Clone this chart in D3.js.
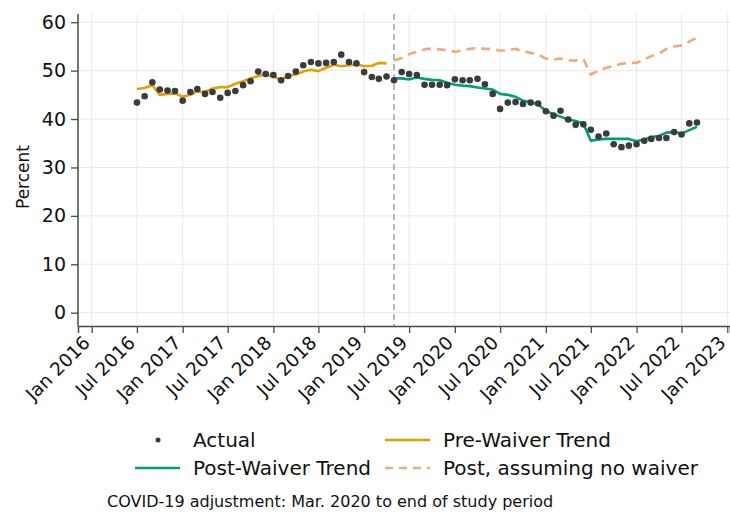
<!DOCTYPE html>
<html>
<head>
<meta charset="utf-8">
<script src="https://cdn.jsdelivr.net/npm/d3@7"></script>
<style>
  html, body { margin: 0; padding: 0; background: #fff; }
  svg { display: block; font-family: "DejaVu Sans", sans-serif; }
</style>
</head>
<body>
<svg id="chart" width="730" height="512"></svg>
<script>
// Monthly series, first observation July 2016
const firstMonth = new Date(2016, 6, 1);   // Jul 2016
const waiverMonth = new Date(2019, 4, 1);  // May 2019, start of waiver

// Observed share (percent), Jul 2016 .. Sep 2022
const actual = [
  43.4, 44.7, 47.6, 46.1, 45.9, 45.8, 43.8, 45.6, 46.2, 45.2, 45.6, 44.4,
  45.4, 45.8, 47.0, 47.8, 49.8, 49.3, 49.1, 48.0, 48.9, 49.8, 51.1, 51.8,
  51.5, 51.6, 51.8, 53.3, 51.8, 51.5, 49.7, 48.7, 48.3, 48.8, 48.0, 49.7,
  49.3, 49.1, 47.1, 47.1, 47.1, 47.0, 48.2, 48.0, 48.0, 48.3, 47.2, 45.2,
  42.1, 43.4, 43.5, 43.1, 43.4, 43.2, 41.6, 40.7, 41.7, 39.9, 38.8, 38.9,
  37.8, 36.4, 37.0, 34.8, 34.2, 34.5, 34.8, 35.5, 35.9, 36.1, 36.1, 37.3,
  36.8, 39.1, 39.3
];

// Pre-waiver fitted trend, Jul 2016 .. Apr 2019
const preTrend = [
  46.2, 46.4, 47.0, 45.0, 45.2, 45.3, 44.6, 45.0, 45.7, 45.6, 46.3, 46.6,
  46.6, 47.3, 47.8, 48.4, 48.9, 49.2, 48.8, 48.1, 48.9, 49.2, 49.8, 50.2,
  49.9, 50.6, 51.2, 50.9, 51.1, 51.3, 50.9, 51.0, 51.6, 51.5
];

// Post-waiver fitted trend, May 2019 .. Sep 2022
const postTrend = [
  48.4, 48.4, 48.2, 48.6, 48.3, 48.1, 48.0, 47.5, 47.1, 46.9, 46.8, 46.5,
  46.3, 46.1, 45.2, 45.0, 44.6, 43.8, 43.5, 43.0, 41.7, 41.0, 40.5, 39.9,
  39.6, 39.1, 35.5, 35.8, 35.9, 35.9, 35.9, 35.9, 35.4, 35.8, 36.3, 36.5,
  37.2, 37.3, 37.0, 37.7, 38.4
];

// Counterfactual without the waiver, May 2019 .. Sep 2022
const noWaiver = [
  52.1, 52.6, 53.4, 53.9, 54.4, 54.6, 54.4, 54.2, 53.9, 54.2, 54.5, 54.7,
  54.5, 54.5, 54.1, 54.3, 54.5, 54.0, 53.7, 53.3, 52.5, 52.3, 52.5, 52.1,
  52.1, 52.4, 49.2, 50.0, 50.6, 51.0, 51.4, 51.6, 51.6, 52.3, 53.0, 53.5,
  54.5, 55.0, 55.2, 56.0, 56.8
];

const yTicks = [0, 10, 20, 30, 40, 50, 60];
const xTickDates = [
  "2016-01", "2016-07", "2017-01", "2017-07", "2018-01", "2018-07", "2019-01",
  "2019-07", "2020-01", "2020-07", "2021-01", "2021-07", "2022-01", "2022-07", "2023-01"
];
const legendItems = [
  { label: "Actual", kind: "dot" },
  { label: "Pre-Waiver Trend", kind: "pre" },
  { label: "Post-Waiver Trend", kind: "post" },
  { label: "Post, assuming no waiver", kind: "cf" }
];
const note = "COVID-19 adjustment: Mar. 2020 to end of study period";

const colors = {
  dot: "#3b3b3b",
  pre: "#E69F00",
  post: "#009E73",
  cf: "#F2A97A",
  grid: "#e9e9e9",
  axis: "#4a4a4a",
  waiver: "#a8a8a8"
};

const parseMonth = d3.timeParse("%Y-%m");
const fmt = d3.timeFormat("%b %Y");

const svg = d3.select("#chart");
const plot = { left: 78, right: 730, top: 14, bottom: 326 };

// x: time scale calibrated on Jan 2016 .. Jan 2023, then widened to the frame
const xBase = d3.scaleTime()
  .domain([parseMonth("2016-01"), parseMonth("2023-01")])
  .range([91.7, 727.3]);
const x = d3.scaleTime()
  .domain([xBase.invert(plot.left), xBase.invert(plot.right)])
  .range([plot.left, plot.right]);

const y = d3.scaleLinear()
  .domain([-2.75, 61.7])
  .range([plot.bottom, plot.top]);

const monthAt = (start, i) => d3.timeMonth.offset(start, i);
const actualPts = actual.map((v, i) => ({ date: monthAt(firstMonth, i), v }));
const prePts = preTrend.map((v, i) => ({ date: monthAt(firstMonth, i), v }));
const postPts = postTrend.map((v, i) => ({ date: monthAt(waiverMonth, i), v }));
const cfPts = noWaiver.map((v, i) => ({ date: monthAt(waiverMonth, i), v }));

const xTicks = xTickDates.map(parseMonth);

// Grid
const grid = svg.append("g");
grid.selectAll("line.gx").data(xTicks).join("line")
  .attr("x1", d => x(d)).attr("x2", d => x(d))
  .attr("y1", plot.top).attr("y2", plot.bottom)
  .attr("stroke", colors.grid).attr("stroke-width", 1);
grid.selectAll("line.gy").data(yTicks).join("line")
  .attr("x1", plot.left).attr("x2", plot.right)
  .attr("y1", d => y(d)).attr("y2", d => y(d))
  .attr("stroke", colors.grid).attr("stroke-width", 1);

// Waiver start marker
svg.append("line")
  .attr("x1", x(waiverMonth)).attr("x2", x(waiverMonth))
  .attr("y1", plot.top).attr("y2", plot.bottom)
  .attr("stroke", colors.waiver).attr("stroke-width", 1.6)
  .attr("stroke-dasharray", "6,4");

// Axes
const yAxis = d3.axisLeft(y).tickValues(yTicks).tickSize(7).tickPadding(5);
const gy = svg.append("g").attr("transform", `translate(${plot.left},0)`).call(yAxis);
gy.select(".domain").attr("d", `M0,${plot.top}V${plot.bottom}`);

const xAxis = d3.axisBottom(x).tickValues(xTicks).tickSize(7).tickFormat(fmt);
const gx = svg.append("g").attr("transform", `translate(0,${plot.bottom})`).call(xAxis);

[gx, gy].forEach(g => {
  g.select(".domain").attr("stroke", colors.axis).attr("stroke-width", 1.5);
  g.selectAll(".tick line").attr("stroke", colors.axis).attr("stroke-width", 1.3);
  g.selectAll("text").attr("fill", "#111").attr("font-size", 19)
    .attr("font-family", "DejaVu Sans, sans-serif");
});
gx.selectAll(".tick text")
  .attr("font-size", 18.5)
  .attr("text-anchor", "end")
  .attr("y", 0).attr("dy", "0.3em")
  .attr("transform", "translate(-5,14) rotate(-45)");

svg.append("text")
  .attr("transform", "translate(29,177) rotate(-90)")
  .attr("text-anchor", "middle")
  .attr("font-size", 17)
  .attr("fill", "#111")
  .text("Percent");

// Series
const line = d3.line().x(d => x(d.date)).y(d => y(d.v));

svg.append("path").datum(cfPts)
  .attr("d", line).attr("fill", "none")
  .attr("stroke", colors.cf).attr("stroke-width", 2.6)
  .attr("stroke-dasharray", "9,6");

svg.append("path").datum(prePts)
  .attr("d", line).attr("fill", "none")
  .attr("stroke", colors.pre).attr("stroke-width", 2.6)
  .attr("stroke-linejoin", "round");

svg.append("path").datum(postPts)
  .attr("d", line).attr("fill", "none")
  .attr("stroke", colors.post).attr("stroke-width", 2.6)
  .attr("stroke-linejoin", "round");

svg.append("g").selectAll("circle").data(actualPts).join("circle")
  .attr("cx", d => x(d.date)).attr("cy", d => y(d.v))
  .attr("r", 3.3).attr("fill", colors.dot);

// Legend (two columns, two rows)
const legend = svg.append("g").attr("font-size", 20).attr("fill", "#111");
const colText = [193, 443];
const rowY = [440, 468];
legendItems.forEach((item, i) => {
  const col = i % 2, row = Math.floor(i / 2);
  const tx = colText[col], ty = rowY[row];
  const sx1 = tx - 58, sx2 = tx - 13;
  if (item.kind === "dot") {
    legend.append("circle").attr("cx", tx - 35).attr("cy", ty).attr("r", 2.5)
      .attr("fill", colors.dot);
  } else {
    legend.append("line")
      .attr("x1", sx1).attr("x2", sx2).attr("y1", ty).attr("y2", ty)
      .attr("stroke", colors[item.kind]).attr("stroke-width", 2.6)
      .attr("stroke-dasharray", item.kind === "cf" ? "8,6" : null);
  }
  legend.append("text").attr("x", tx).attr("y", ty).attr("dy", "0.36em")
    .text(item.label);
});

svg.append("text")
  .attr("x", 107).attr("y", 501).attr("dy", "0.36em")
  .attr("font-size", 16).attr("fill", "#111")
  .text(note);
</script>
</body>
</html>
